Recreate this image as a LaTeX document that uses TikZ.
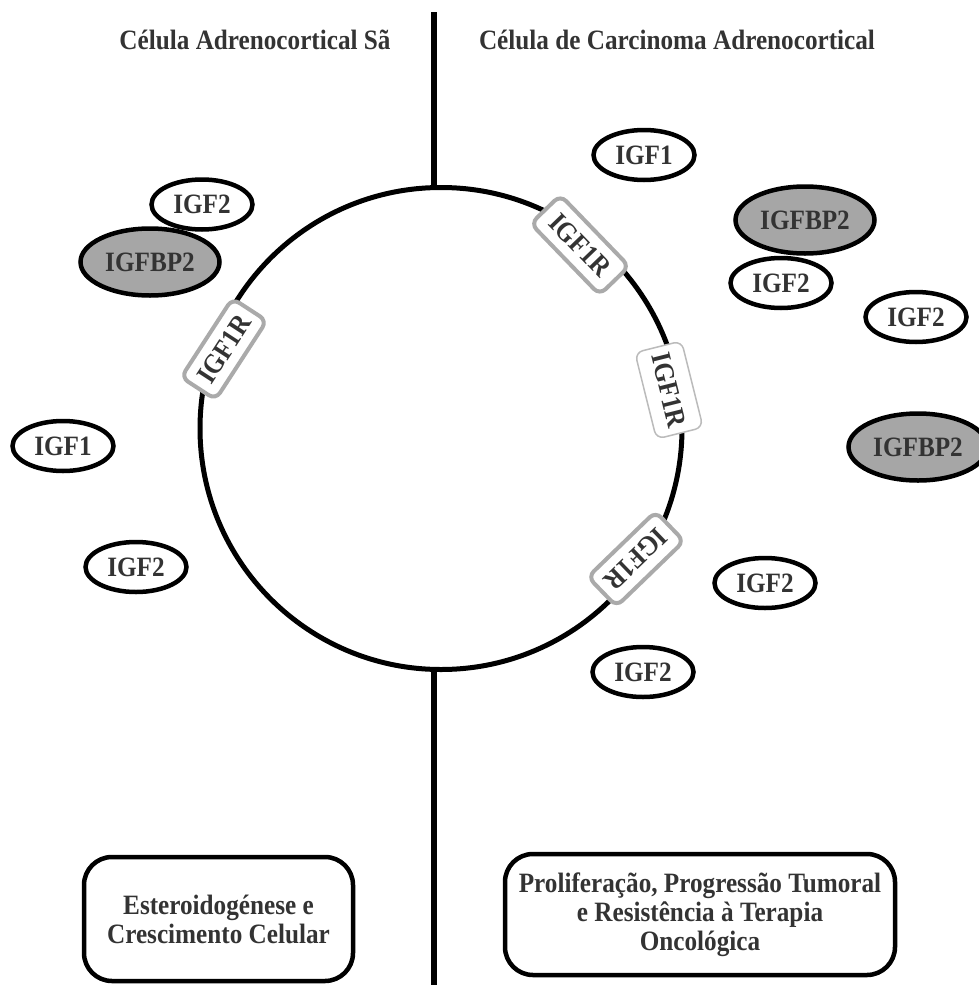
\documentclass[tikz,border=0pt]{standalone}
\usepackage{fontspec}
\setmainfont{Liberation Serif}[FakeStretch=0.9]
\usetikzlibrary{shapes.geometric}
\definecolor{txtgray}{HTML}{333333}
\definecolor{bpgray}{HTML}{A6A6A6}
\definecolor{rcgray}{HTML}{AAAAAA}
\definecolor{rclight}{HTML}{BBBBBB}
\tikzstyle{title} = [font=\fontsize{28}{29}\selectfont\bfseries, text=txtgray]
\tikzstyle{ligand} = [ellipse, draw=black, line width=4.5pt, fill=white, minimum width=101pt, minimum height=50pt, inner sep=0pt, text centered, text=txtgray, font=\fontsize{28}{29}\selectfont\bfseries]
\tikzstyle{binder} = [ligand, fill=bpgray, minimum width=139pt, minimum height=67pt]
\tikzstyle{receptor} = [rectangle, rounded corners=8pt, draw=rcgray, line width=4pt, fill=white, minimum width=94pt, minimum height=41pt, inner sep=0pt, text centered, text=txtgray, font=\fontsize{28}{29}\selectfont\bfseries]
\tikzstyle{outcome} = [rectangle, rounded corners=28pt, draw=black, line width=4.5pt, align=center, text=txtgray, font=\fontsize{28}{29}\selectfont\bfseries]
\tikzstyle{membrane} = [circle, draw=black, line width=5pt, fill=white, minimum size=482pt, inner sep=0pt]
\tikzstyle{divider} = [line width=5.5pt]

\begin{document}
\begin{tikzpicture}[x=1pt, y=1pt]

\useasboundingbox (0,0) rectangle (979,-985);

% dividing line and cell membrane
\coordinate (divtop) at (434,-12);
\coordinate (divbot) at (434,-985);
\draw [divider] (divtop) -- (divbot);
\node (cell) [membrane] at (441,-428.5) {};

% titles
\node (healthy) [title] at (255,-40) {Célula Adrenocortical Sã};
\node (tumour) [title] at (677,-40) {Célula de Carcinoma Adrenocortical};

% healthy side
\node (bpLeft) [binder] at (150,-262) {IGFBP2};
\node (igfTwoA) [ligand] at (202,-204.5) {IGF2};
\node (igfOneA) [ligand] at (63,-446) {IGF1};
\node (igfTwoB) [ligand] at (136,-567) {IGF2};
\node (rcLeft) [receptor, rotate=57] at (224,-349) {IGF1R};

% tumour side
\node (igfOneB) [ligand] at (644,-155) {IGF1};
\node (bpTop) [binder] at (805,-220) {IGFBP2};
\node (igfTwoC) [ligand] at (781,-283) {IGF2};
\node (igfTwoD) [ligand] at (916,-317) {IGF2};
\node (bpRight) [binder] at (918,-447) {IGFBP2};
\node (igfTwoE) [ligand] at (765,-583) {IGF2};
\node (igfTwoF) [ligand] at (643,-672) {IGF2};
\node (rcTop) [receptor, rotate=-46, minimum width=99pt] at (580,-245) {IGF1R};
\node (rcMid) [receptor, rotate=-76, draw=rclight, line width=1.5pt, minimum width=89pt, minimum height=48pt] at (669,-390) {IGF1R};
\node (rcLow) [receptor, rotate=-136] at (636,-559) {IGF1R};

% outcomes
\node (steroid) [outcome, minimum width=269pt, minimum height=124pt] at (218.5,-919) {Esteroidogénese e\\Crescimento Celular};
\node (prolif) [outcome, minimum width=390pt, minimum height=121pt] at (700,-914.5) {Proliferação, Progressão Tumoral\\e Resistência à Terapia\\Oncológica};

\end{tikzpicture}
\end{document}
